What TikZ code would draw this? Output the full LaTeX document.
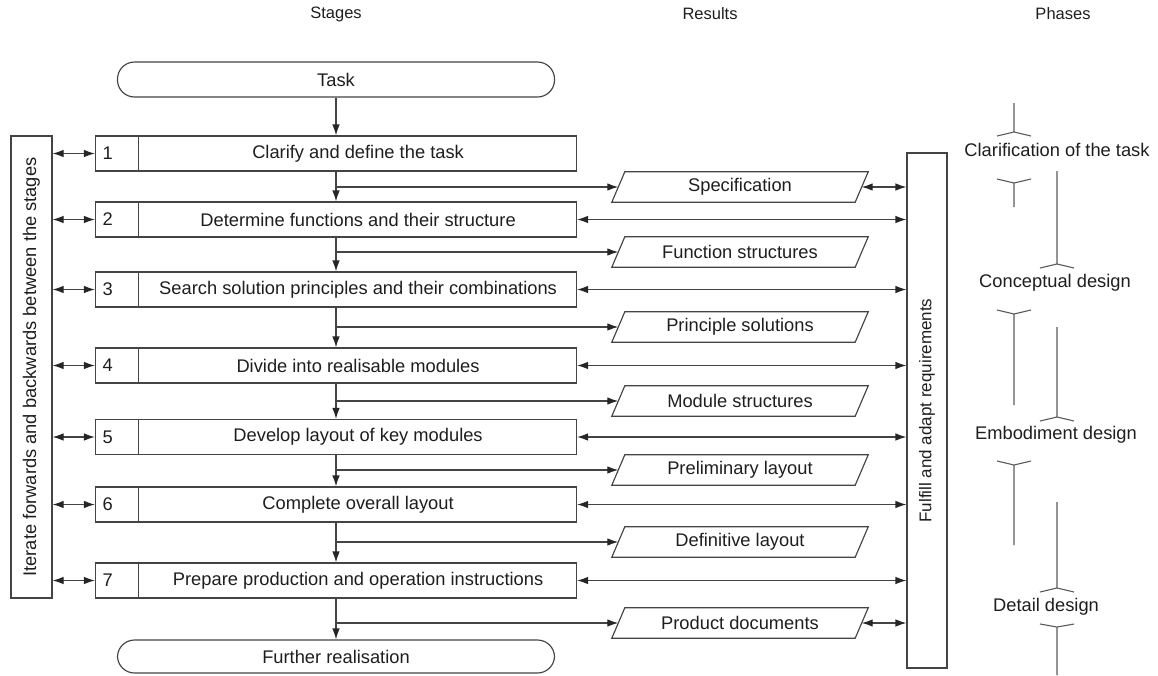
\documentclass[tikz,border=0pt]{standalone}
\usepackage{fontspec}
\setmainfont{Liberation Sans}
\usepackage{graphicx}
\usetikzlibrary{arrows.meta,calc}
\definecolor{ink}{HTML}{444444}
\definecolor{txt}{HTML}{1E1E1E}
\definecolor{phase}{HTML}{5A5A5A}
\begin{document}
\begin{tikzpicture}[x=1pt,y=-1pt,
  line/.style={draw=ink,line width=1.15pt},
  tip/.tip={Latex[length=11pt,width=7.5pt,color=black!85]},
  arr/.style={line,-tip},
  darr/.style={line,tip-tip},
  lbl/.style={text=txt,font=\fontsize{18.3}{22}\selectfont,inner sep=0pt},
  head/.style={lbl,font=\fontsize{16.5}{20}\selectfont},
  terminal/.style={line,lbl,rounded corners=17pt,minimum width=437pt},
  stagebox/.style={line,minimum width=481pt,minimum height=35pt,inner sep=0pt},
  numbox/.style={line,lbl,inner xsep=7pt,text width=29pt,align=left,minimum height=35pt,anchor=west},
  resultbox/.style={lbl,minimum width=243pt,minimum height=30pt},
  sidebox/.style={line,lbl,minimum width=41pt},
  phasetext/.style={lbl},
  bracket/.style={draw=phase,line width=1.1pt},
]
\useasboundingbox (0,0) rectangle (1158,675);

% column headings
\node[head] (hstages) at (336,14) {Stages};
\node[head] (hresults) at (710,14) {Results};
\node[head] (hphases) at (1063,14) {Phases};

% start and end of the process
\node[terminal,minimum height=35pt] (task) at (336,79.5) {Task};
\node[terminal,minimum height=33pt] (further) at (336,656.5) {Further realisation};

% working stages: outer box, number cell, caption
\foreach \i/\y/\txt in {
  1/153.5/Clarify and define the task,
  2/219.5/Determine functions and their structure,
  3/289.5/Search solution principles and their combinations,
  4/365.5/Divide into realisable modules,
  5/437/Develop layout of key modules,
  6/504.5/Complete overall layout,
  7/580.5/Prepare production and operation instructions}{
  \node[stagebox] (s\i) at (336,\y) {};
  \node[numbox] (n\i) at (s\i.west) {\i};
  \node[lbl] (t\i) at ($(n\i.east)!0.5!(s\i.east)$) {\txt};
}

% results of the stages (parallelograms drawn round the caption nodes)
\foreach \i/\y/\txt in {
  1/187/Specification,
  2/252/Function structures,
  3/327/Principle solutions,
  4/401/Module structures,
  5/470/Preliminary layout,
  6/542/Definitive layout,
  7/623/Product documents}{
  \node[resultbox] (r\i) at (740,\y) {\txt};
  \draw[line] ([xshift=-6.5pt]r\i.south west) -- ([xshift=6.5pt]r\i.north west)
     -- ([xshift=6.5pt]r\i.north east) -- ([xshift=-6.5pt]r\i.south east) -- cycle;
  \coordinate (b\i) at (336,\y);
}

% side boxes
\node[sidebox,minimum height=462pt] (iter) at (31.5,367)
  {\rotatebox{90}{Iterate forwards and backwards between the stages}};
\node[sidebox,minimum height=515pt,minimum width=40pt,font=\fontsize{17}{20}\selectfont] (req) at (927,410.5)
  {\rotatebox{90}{Fulfill and adapt requirements}};

% main flow
\draw[arr] (task) -- (s1);
\foreach \i/\j in {1/2,2/3,3/4,4/5,5/6,6/7}{
  \draw[arr] (s\i) -- (s\j);
  \draw[arr] (b\i) -- (r\i.west);
}
\draw[arr] (s7) -- (further);
\draw[arr] (b7) -- (r7.west);

% iteration and requirement links
\foreach \i in {1,...,7}{
  \draw[darr] (iter.east |- n\i.west) -- (n\i.west);
}
\foreach \i in {2,...,7}{
  \draw[darr] (s\i.east) -- (req.west |- s\i.east);
}
\draw[darr] (r1.east) -- (req.west |- r1.east);
\draw[darr] (r7.east) -- (req.west |- r7.east);

% design phases
\node[phasetext] (p1) at (1057,150) {Clarification of the task};
\node[phasetext] (p2) at (1055,283) {Conceptual design};
\node[phasetext] (p3) at (1056,435) {Embodiment design};
\node[phasetext] (p4) at (1046,607) {Detail design};

\draw[bracket] (1014,103) -- (1014,132) (997,136) -- (1014,132) -- (1031,136);
\draw[bracket] (997,179) -- (1014,183) -- (1031,179) (1014,183) -- (1014,207);
\draw[bracket] (1057,171) -- (1057,264) (1040,268) -- (1057,264) -- (1074,268);
\draw[bracket] (997,310) -- (1014,314) -- (1031,310) (1014,314) -- (1014,405);
\draw[bracket] (1057,327) -- (1057,417) (1040,421) -- (1057,417) -- (1074,421);
\draw[bracket] (997,461) -- (1014,465) -- (1031,461) (1014,465) -- (1014,545);
\draw[bracket] (1057,502) -- (1057,588) (1040,592) -- (1057,588) -- (1074,592);
\draw[bracket] (1040,624) -- (1057,627) -- (1074,624) (1057,627) -- (1057,675);
\end{tikzpicture}
\end{document}
